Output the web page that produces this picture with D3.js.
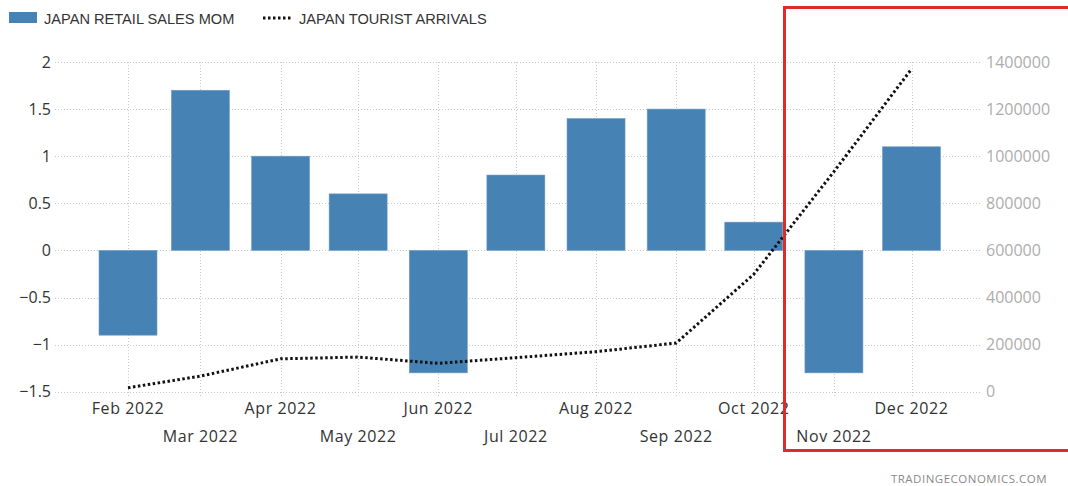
<!DOCTYPE html>
<html>
<head>
<meta charset="utf-8">
<script src="https://cdn.jsdelivr.net/npm/d3@7"></script>
<style>
  html, body { margin: 0; padding: 0; background: #fff; }
  svg { display: block; }
  .tick-label { font-family: "Open Sans", sans-serif; font-size: 16px; fill: #333; }
  .month-label { letter-spacing: 0.6px; }
  .right-label { font-family: "Open Sans", sans-serif; font-size: 16px; fill: #adadad; }
  .legend-label { font-family: "Liberation Sans", Arial, sans-serif; font-size: 14.6px; fill: #333; }
</style>
</head>
<body>
<svg id="chart" width="1068" height="486"></svg>
<script>
// Monthly data, 2022
const months = ["2022-02", "2022-03", "2022-04", "2022-05", "2022-06", "2022-07",
                "2022-08", "2022-09", "2022-10", "2022-11", "2022-12"];
const monthLabels = ["Feb 2022", "Mar 2022", "Apr 2022", "May 2022", "Jun 2022", "Jul 2022",
                     "Aug 2022", "Sep 2022", "Oct 2022", "Nov 2022", "Dec 2022"];
// Japan retail sales, month over month (%)
const retailSalesMoM = [-0.9, 1.7, 1.0, 0.6, -1.3, 0.8, 1.4, 1.5, 0.3, -1.3, 1.1];
// Japan tourist arrivals (persons)
const touristArrivals = [16719, 66121, 139548, 147046, 120430, 144578, 169902, 206641, 498646, 934500, 1370000];
// Axis ticks
const leftTicks = [-1.5, -1, -0.5, 0, 0.5, 1, 1.5, 2];
const rightTicks = [0, 200000, 400000, 600000, 800000, 1000000, 1200000, 1400000];

const svg = d3.select("#chart");
const parse = d3.timeParse("%Y-%m");
const dates = months.map(parse);

const plot = { left: 55, right: 980, top: 62, bottom: 391.7 };

const x = d3.scaleTime()
  .domain([dates[0], dates[dates.length - 1]])
  .range([128, 911.5]);
const yL = d3.scaleLinear().domain([-1.5, 2]).range([plot.bottom, plot.top]);
const yR = d3.scaleLinear().domain([0, 1400000]).range([plot.bottom, plot.top]);

const gridColor = "#c8c8c8";

// horizontal grid
svg.append("g").selectAll("line").data(leftTicks).join("line")
  .attr("x1", plot.left).attr("x2", plot.right)
  .attr("y1", d => Math.round(yL(d)) + 0.5).attr("y2", d => Math.round(yL(d)) + 0.5)
  .attr("stroke", gridColor).attr("stroke-width", 1).attr("stroke-dasharray", "1,2");

// vertical grid with tick extension below the axis
svg.append("g").selectAll("line").data(dates).join("line")
  .attr("x1", d => Math.round(x(d)) + 0.5).attr("x2", d => Math.round(x(d)) + 0.5)
  .attr("y1", plot.top).attr("y2", plot.bottom + 6)
  .attr("stroke", gridColor).attr("stroke-width", 1).attr("stroke-dasharray", "1,2");

// left axis labels
svg.append("g").selectAll("text").data(leftTicks).join("text")
  .attr("class", "tick-label")
  .attr("x", 51).attr("y", d => yL(d)).attr("dy", "0.36em")
  .attr("text-anchor", "end")
  .text(d => d3.format("")(d));

// right axis labels
svg.append("g").selectAll("text").data(rightTicks).join("text")
  .attr("class", "right-label")
  .attr("x", 986).attr("y", d => yR(d)).attr("dy", "0.36em")
  .text(d => d);

// month labels, alternating rows
svg.append("g").selectAll("text").data(dates).join("text")
  .attr("class", "tick-label month-label")
  .attr("x", d => x(d))
  .attr("y", (d, i) => i % 2 === 0 ? 414 : 441.5)
  .attr("text-anchor", "middle")
  .text((d, i) => monthLabels[i]);

// bars
const barW = 58;
svg.append("g").selectAll("rect").data(retailSalesMoM).join("rect")
  .attr("x", (d, i) => x(dates[i]) - barW / 2)
  .attr("width", barW)
  .attr("y", d => yL(Math.max(0, d)))
  .attr("height", d => Math.abs(yL(d) - yL(0)))
  .attr("fill", "#4682b4")
  .attr("stroke", "#6f9dc6").attr("stroke-width", 0.6);

// tourist arrivals line
const line = d3.line()
  .x((d, i) => x(dates[i]))
  .y(d => yR(d));
svg.append("path").datum(touristArrivals)
  .attr("d", line)
  .attr("fill", "none")
  .attr("stroke", "#111")
  .attr("stroke-width", 3)
  .attr("stroke-dasharray", "2.5,2.5");

// legend
const legend = svg.append("g");
legend.append("rect").attr("x", 9).attr("y", 12).attr("width", 28).attr("height", 11).attr("fill", "#4682b4");
legend.append("text").attr("class", "legend-label").attr("x", 44).attr("y", 23.5).text("JAPAN RETAIL SALES MOM");
legend.append("line").attr("x1", 263).attr("x2", 292).attr("y1", 18).attr("y2", 18)
  .attr("stroke", "#111").attr("stroke-width", 3).attr("stroke-dasharray", "2.5,2.5");
legend.append("text").attr("class", "legend-label").attr("x", 299).attr("y", 23.5).text("JAPAN TOURIST ARRIVALS");

// highlight frame around the last two months
svg.append("rect")
  .attr("x", 784.5).attr("y", 7.5).attr("width", 290).attr("height", 443)
  .attr("fill", "none").attr("stroke", "#dd2c2c").attr("stroke-width", 3);

// source credit
svg.append("text")
  .attr("x", 1047).attr("y", 482.5)
  .attr("text-anchor", "end")
  .attr("font-family", "'Open Sans', sans-serif")
  .attr("font-size", 11.5)
  .attr("letter-spacing", 0.5)
  .attr("fill", "#8a8a8a")
  .text("TRADINGECONOMICS.COM");
</script>
</body>
</html>
